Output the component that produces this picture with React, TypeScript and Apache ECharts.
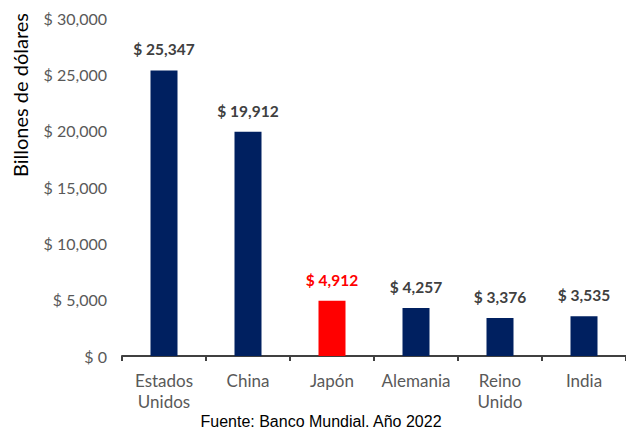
import React, { useEffect, useRef } from "react";
import * as echarts from "echarts";

const categories = ["Estados\nUnidos", "China", "Japón", "Alemania", "Reino\nUnido", "India"];
const values = [25347, 19912, 4912, 4257, 3376, 3535];
const highlight = [false, false, true, false, false, false];
const yTicks = { min: 0, max: 30000, interval: 5000 };

const NAVY = "#002060";
const RED = "#FF0000";
const TEXT = "#404040";
const AXIS_TEXT = "#595959";
const FONT = "Lato, 'Open Sans', sans-serif";

const fmt = (v: number) => "$ " + v.toLocaleString("en-US");

export default function App() {
  const ref = useRef<HTMLDivElement>(null);
  useEffect(() => {
    const chart = echarts.init(ref.current!, null, { renderer: "svg" });
    chart.setOption({
      animation: false,
      backgroundColor: "#ffffff",
      grid: { left: 122, top: 18, bottom: 72, right: -11, containLabel: false },
      xAxis: {
        type: "category",
        data: categories,
        axisLine: { lineStyle: { color: TEXT, width: 2 } },
        axisTick: { show: true, length: 5, lineStyle: { color: TEXT, width: 2 } },
        axisLabel: {
          interval: 0,
          color: AXIS_TEXT,
          fontFamily: FONT,
          fontSize: 17,
          lineHeight: 21,
          margin: 14,
        },
      },
      yAxis: {
        type: "value",
        min: yTicks.min,
        max: yTicks.max,
        interval: yTicks.interval,
        axisLine: { show: false },
        axisTick: { show: false },
        splitLine: { show: false },
        axisLabel: {
          color: AXIS_TEXT,
          fontFamily: FONT,
          fontSize: 16,
          margin: 15,
          formatter: (v: number) => fmt(v),
        },
      },
      series: [
        {
          type: "bar",
          barWidth: 27,
          data: values.map((v, i) => ({
            value: v,
            itemStyle: { color: highlight[i] ? RED : NAVY },
            label: {
              show: true,
              position: "top",
              distance: 13,
              formatter: fmt(v),
              color: highlight[i] ? RED : TEXT,
              fontFamily: FONT,
              fontWeight: "bold",
              fontSize: 15.5,
            },
          })),
        },
      ],
      graphic: [
        {
          type: "text",
          x: 20,
          y: 95,
          rotation: Math.PI / 2,
          style: {
            text: "Billones de dólares",
            fill: "#000000",
            font: `20px ${FONT}`,
            align: "center",
            verticalAlign: "middle",
          },
        },
        {
          type: "text",
          x: 321,
          y: 421,
          style: {
            text: "Fuente: Banco Mundial. Año 2022",
            fill: "#000000",
            font: "16px 'Liberation Sans', Arial, sans-serif",
            align: "center",
            verticalAlign: "middle",
          },
        },
      ],
    });
    return () => chart.dispose();
  }, []);
  return (
    <div
      ref={ref}
      style={{ position: "fixed", left: 0, top: 0, width: 626, height: 428, background: "#fff" }}
    />
  );
}
